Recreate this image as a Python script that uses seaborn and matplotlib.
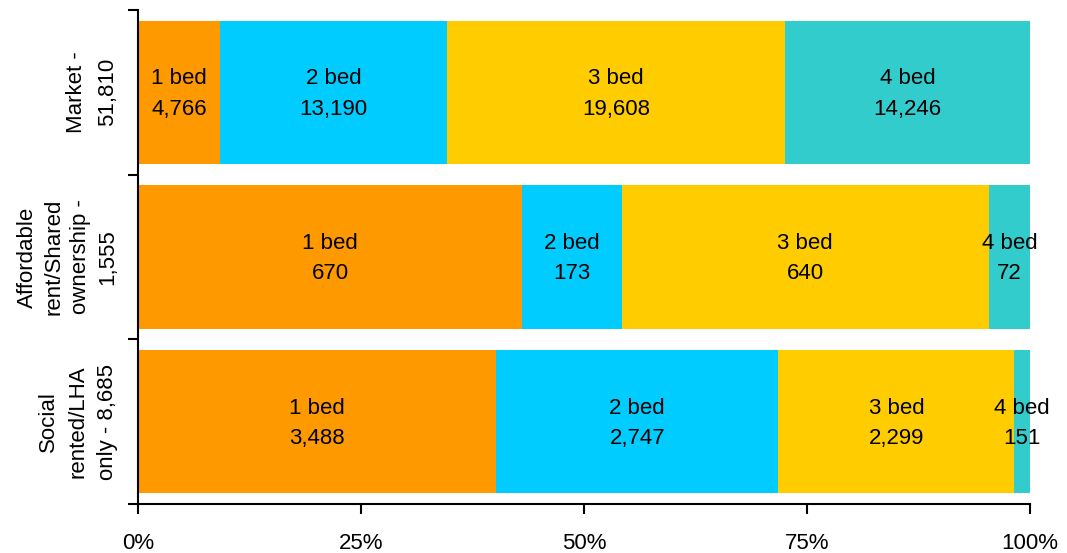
import numpy as np
import pandas as pd
from matplotlib import pyplot as plt
import seaborn as sns

tenures = ['Market -\n51,810', 'Affordable\nrent/Shared\nownership -\n1,555',
           'Social\nrented/LHA\nonly - 8,685']
beds = ['1 bed', '2 bed', '3 bed', '4 bed']
one_bed = [4766, 670, 3488]
two_bed = [13190, 173, 2747]
three_bed = [19608, 640, 2299]
four_bed = [14246, 72, 151]
colors = ['#FF9900', '#00CCFF', '#FFCC00', '#33CCCC']

sns.set_style('ticks', {'axes.edgecolor': 'black', 'xtick.color': 'black',
                        'ytick.color': 'black', 'text.color': 'black'})
plt.rcParams['font.family'] = ['Liberation Sans', 'DejaVu Sans']

counts = np.array([one_bed, two_bed, three_bed, four_bed], dtype=float)
totals = counts.sum(axis=0)
shares = counts / totals
cum = shares.cumsum(axis=0)

fig = plt.figure(figsize=(10.67, 5.53), dpi=100)
ax = fig.add_axes([138 / 1067, 1 - 504 / 553, 892 / 1067, 494 / 553])

# draw cumulative bars from the widest down so each segment shows on top
for i in range(3, -1, -1):
    df = pd.DataFrame({'tenure': tenures, 'share': cum[i]})
    sns.barplot(data=df, x='share', y='tenure', orient='h', color=colors[i],
                saturation=1, width=0.87, linewidth=0, ax=ax)

for i in range(4):
    for j in range(3):
        left = cum[i, j] - shares[i, j]
        ax.text(left + shares[i, j] / 2, j + 0.01,
                '%s\n%s' % (beds[i], format(int(counts[i, j]), ',')),
                ha='center', va='center', fontsize=16, linespacing=1.6, color='black')

for s in ['top', 'right']:
    ax.spines[s].set_visible(False)
for s in ['left', 'bottom']:
    ax.spines[s].set_linewidth(1.5)

ax.set_xlim(0, 1)
ax.set_ylim(2.5, -0.5)
ax.set_xticks([0, 0.25, 0.5, 0.75, 1.0])
ax.set_xticklabels(['0%', '25%', '50%', '75%', '100%'])
ax.set_yticks([-0.5, 0.5, 1.5, 2.5])
ax.set_yticklabels([])
ax.tick_params(axis='both', which='major', length=7, width=1.5, direction='out',
               pad=14, labelsize=16, colors='black')
ax.set_xlabel('')
ax.set_ylabel('')

# category labels as rotated text, right edge ~20px left of the axis
for j, (lab, ls) in enumerate(zip(tenures, [1.62, 1.35, 1.52])):
    ax.text(-20 / 892, j, lab, transform=ax.get_yaxis_transform(), rotation=90,
            ha='right', va='center', multialignment='center', fontsize=16,
            linespacing=ls, color='black')

fig.savefig('out.png', dpi=100)
